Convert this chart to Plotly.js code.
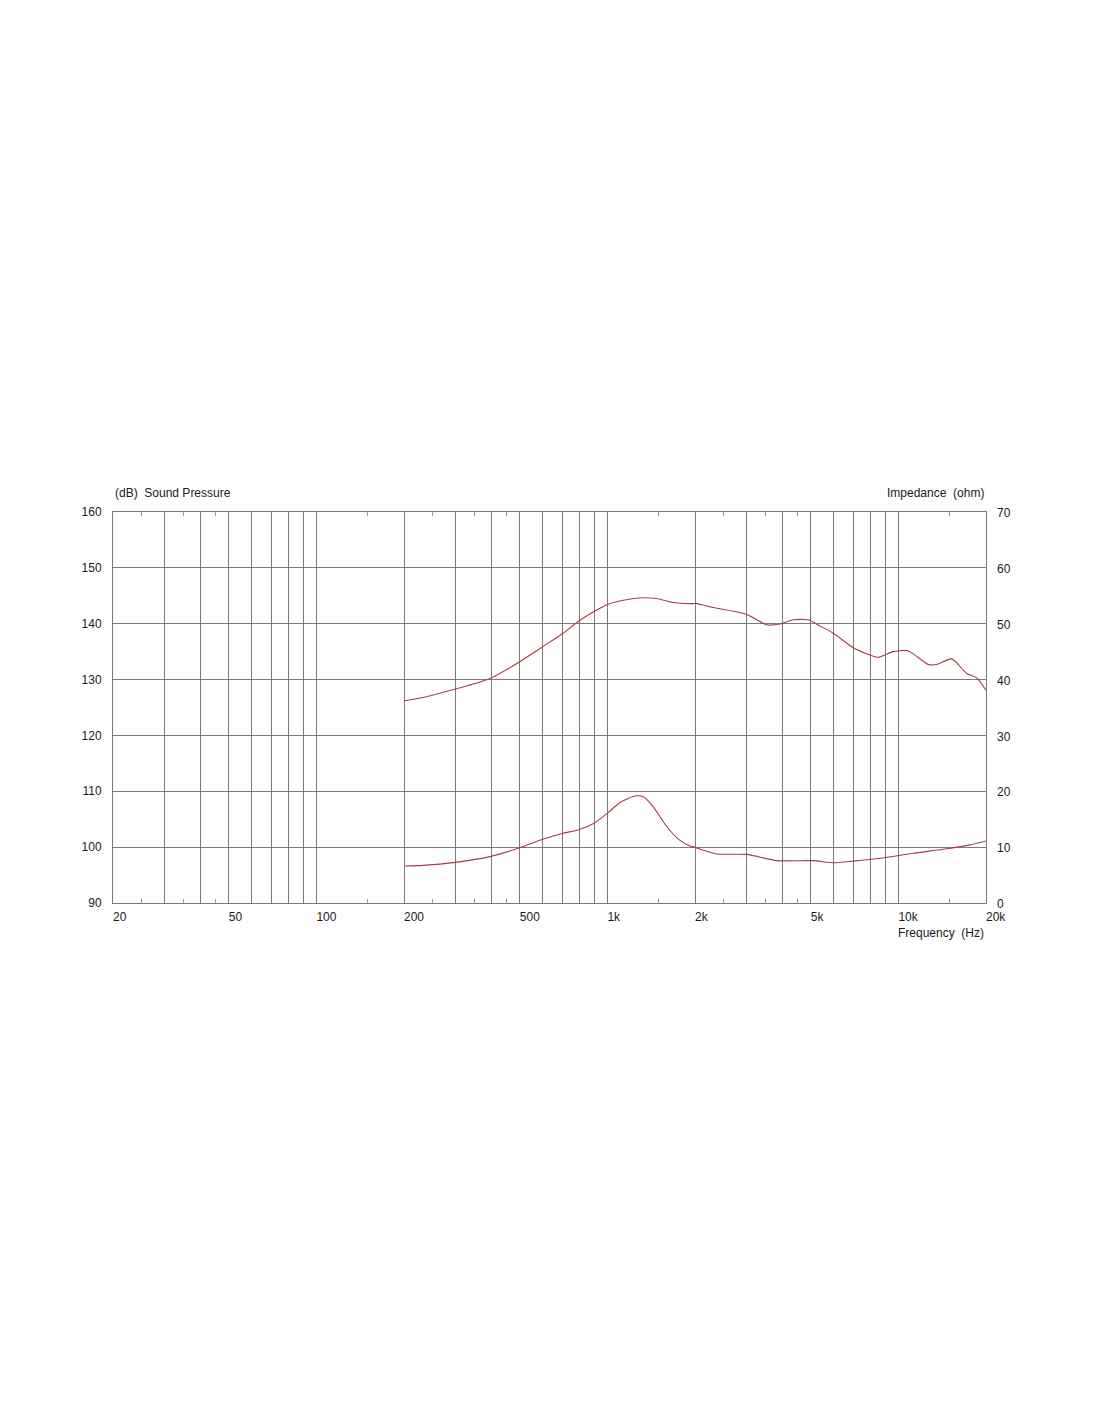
<!DOCTYPE html>
<html>
<head>
<meta charset="utf-8">
<script src="https://cdn.plot.ly/plotly-3.0.1.min.js"></script>
<style>
html,body{margin:0;padding:0;background:#fff;}
#chart{width:1100px;height:1422px;}
</style>
</head>
<body>
<div id="chart"></div>
<script>
// Sound pressure curve (dB, left axis)
const splFreq = [200,233,300,395,500,600,705,794,900,1007,1134,1330,1477,1684,1922,2027,2312,2856,3090,3528,3920,4354,4902,5378,5976,6998,7988,8530,9604,10680,11252,12670,13540,15250,17170,18580,20000];
const splDb = [126.2,126.8,128.3,130.2,133.2,135.9,138.3,140.4,142.2,143.5,144.2,144.65,144.5,143.8,143.6,143.6,142.9,142.0,141.4,139.8,139.95,140.7,140.7,139.6,138.3,135.7,134.4,134.0,135.0,135.2,134.6,132.7,132.7,133.7,131.1,130.3,128.1];

// Impedance curve (ohm, right axis)
const impFreq = [200,233,300,395,500,600,705,794,900,1007,1105,1244,1329,1438,1598,1776,1922,2000,2376,3010,3818,5100,5976,6998,8646,11252,14656,17620,20000];
const impOhm = [6.62,6.74,7.28,8.3,9.9,11.4,12.5,13.07,14.27,16.2,18.0,19.15,19.0,17.2,13.7,11.2,10.2,9.96,8.77,8.7,7.58,7.58,7.2,7.5,8.0,8.9,9.7,10.4,11.1];

// Axis ticks / grid
const gridFreqs = [30,40,50,60,70,80,90,100,200,300,400,500,600,700,800,900,1000,2000,3000,4000,5000,6000,7000,8000,9000,10000];
const minorFreqs = [25,35,45,150,250,350,450,1500,2500,3500,4500,15000];
const labelFreqs = [20,50,100,200,500,1000,2000,5000,10000,20000];
const labelText = ['20','50','100','200','500','1k','2k','5k','10k','20k'];
const dbTicks = [90,100,110,120,130,140,150,160];
const ohmTicks = [0,10,20,30,40,50,60,70];

const lineColor = '#a23f40';
const gridColor = '#7a7a7a';
const textColor = '#1a1a1a';
const fontFam = '"Liberation Sans", Arial, sans-serif';
const xr = [Math.log10(20), Math.log10(20000)];

const traces = [
  {x: splFreq, y: splDb, type: 'scatter', mode: 'lines', xaxis: 'x', yaxis: 'y',
   line: {color: lineColor, width: 1.1, shape: 'spline', smoothing: 0.6}, hoverinfo: 'x+y', showlegend: false},
  {x: impFreq, y: impOhm, type: 'scatter', mode: 'lines', xaxis: 'x', yaxis: 'y2',
   line: {color: lineColor, width: 1.1, shape: 'spline', smoothing: 0.6}, hoverinfo: 'x+y', showlegend: false},
  // carrier for the frequency label axis (draws nothing)
  {x: labelFreqs, y: labelFreqs.map(() => null), type: 'scatter', mode: 'lines', xaxis: 'x2', yaxis: 'y',
   hoverinfo: 'skip', showlegend: false}
];

const layout = {
  width: 1100, height: 1422,
  margin: {l: 113, r: 114, t: 512, b: 519, pad: 0},
  paper_bgcolor: '#fff', plot_bgcolor: '#fff',
  font: {family: fontFam, size: 12, color: textColor},
  showlegend: false,
  xaxis: {
    type: 'log', range: xr,
    tickmode: 'array', tickvals: gridFreqs, showticklabels: false, ticks: '',
    showgrid: true, gridcolor: gridColor, gridwidth: 1,
    showline: true, linecolor: gridColor, linewidth: 1, mirror: 'ticks',
    zeroline: false,
    minor: {tickmode: 'array', tickvals: minorFreqs, ticks: 'inside', ticklen: 4, tickcolor: '#999', showgrid: false}
  },
  xaxis2: {
    type: 'log', range: xr, overlaying: 'x', anchor: 'y', side: 'bottom',
    tickmode: 'array', tickvals: labelFreqs, ticktext: labelText,
    ticks: '', showgrid: false, showline: false, zeroline: false,
    ticklabelposition: 'outside right', ticklabelstandoff: 5,
    tickfont: {family: fontFam, size: 12, color: textColor}
  },
  yaxis: {
    range: [90, 160], tickmode: 'array', tickvals: dbTicks,
    showgrid: true, gridcolor: gridColor, gridwidth: 1,
    showline: true, linecolor: gridColor, linewidth: 1, mirror: true,
    zeroline: false, ticks: '', ticklabelstandoff: 8,
    tickfont: {family: fontFam, size: 12, color: textColor}
  },
  yaxis2: {
    range: [0, 70], overlaying: 'y', side: 'right', anchor: 'x',
    tickmode: 'array', tickvals: ohmTicks,
    showgrid: false, zeroline: false, showline: false, ticks: '', ticklabelstandoff: 10,
    ticklabelshift: 1,
    tickfont: {family: fontFam, size: 12, color: textColor}
  },
  annotations: [
    {text: '(dB)\u00a0 Sound Pressure', xref: 'paper', yref: 'paper', x: 0, y: 1, xanchor: 'left', yanchor: 'bottom', yshift: 10, showarrow: false, font: {family: fontFam, size: 12, color: textColor}},
    {text: 'Impedance\u00a0 (ohm)', xref: 'paper', yref: 'paper', x: 1, y: 1, xanchor: 'right', yanchor: 'bottom', yshift: 10, showarrow: false, font: {family: fontFam, size: 12, color: textColor}},
    {text: 'Frequency\u00a0 (Hz)', xref: 'paper', yref: 'paper', x: 1, y: 0, xanchor: 'right', yanchor: 'top', yshift: -21, showarrow: false, font: {family: fontFam, size: 12, color: textColor}}
  ]
};

Plotly.newPlot('chart', traces, layout, {displayModeBar: false, staticPlot: true});
</script>
</body>
</html>
